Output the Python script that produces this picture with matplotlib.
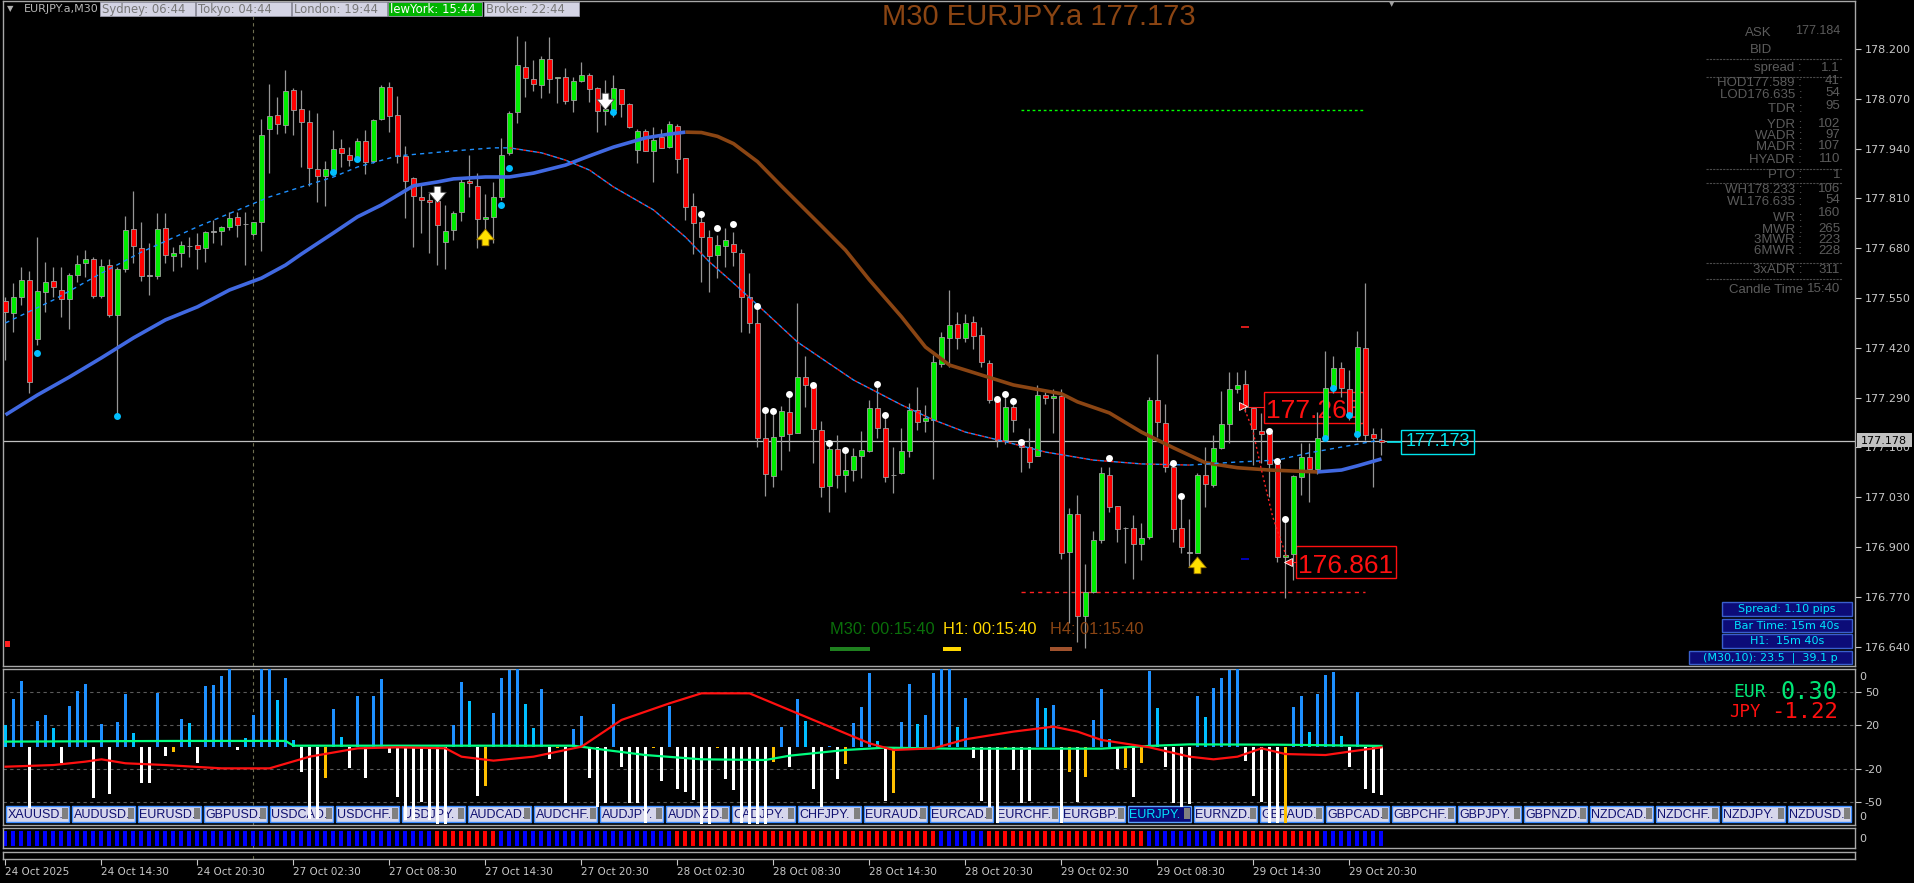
import numpy as np
import matplotlib
matplotlib.use("Agg")
import matplotlib.pyplot as plt
import matplotlib.transforms as mtransforms
from matplotlib.patches import Rectangle

plt.rcParams['font.family'] = ['DejaVu Sans']

# ================= EURJPY.a M30 candles =================
opens = [
    177.542, 177.511, 177.553, 177.597, 177.443, 177.566, 177.595, 177.571, 177.548, 177.610,
    177.642, 177.652, 177.555, 177.636, 177.506, 177.626, 177.730, 177.681, 177.608, 177.608,
    177.733, 177.660, 177.668, 177.686, 177.689, 177.681, 177.723, 177.725, 177.735, 177.762,
    177.743, 177.717, 177.749, 177.991, 178.028, 178.002, 178.093, 178.043, 178.010, 177.887,
    177.869, 177.882, 177.942, 177.923, 177.910, 177.960, 177.908, 178.017, 178.101, 178.028,
    177.921, 177.863, 177.814, 177.806, 177.803, 177.696, 177.728, 177.775, 177.856, 177.843,
    177.756, 177.762, 177.814, 177.929, 178.036, 178.153, 178.122, 178.106, 178.174, 178.124,
    178.127, 178.067, 178.117, 178.132, 178.098, 178.038, 178.041, 178.096, 178.057, 177.937,
    177.986, 177.934, 177.970, 177.944, 177.999, 177.916, 177.790, 177.749, 177.709, 177.662,
    177.686, 177.691, 177.668, 177.553, 177.485, 177.185, 177.086, 177.190, 177.253, 177.198,
    177.344, 177.323, 177.206, 177.060, 177.156, 177.088, 177.101, 177.138, 177.151, 177.263,
    177.211, 177.088, 177.093, 177.151, 177.258, 177.229, 177.232, 177.378, 177.446, 177.482,
    177.446, 177.488, 177.454, 177.381, 177.284, 177.180, 177.266, 177.169, 177.161, 177.138,
    177.297, 177.289, 177.294, 176.887, 176.986, 176.720, 176.783, 176.919, 177.088, 177.007,
    176.950, 176.950, 176.908, 176.926, 177.284, 177.224, 177.109, 176.950, 176.885, 176.885,
    177.088, 177.062, 177.159, 177.221, 177.313, 177.326, 177.263, 177.203, 177.198, 177.117,
    176.874, 176.882, 177.083, 177.135, 177.104, 177.185, 177.315, 177.368, 177.313, 177.193,
    177.420, 177.195, 177.180]
highs = [
    177.553, 177.589, 177.631, 177.621, 177.709, 177.644, 177.631, 177.631, 177.615, 177.662,
    177.675, 177.657, 177.652, 177.652, 177.631, 177.764, 177.830, 177.749, 177.694, 177.772,
    177.772, 177.683, 177.699, 177.709, 177.720, 177.725, 177.754, 177.738, 177.775, 177.775,
    177.775, 177.749, 178.017, 178.109, 178.075, 178.145, 178.098, 178.093, 178.041, 178.033,
    177.908, 177.989, 177.965, 177.944, 177.968, 177.989, 178.017, 178.106, 178.114, 178.077,
    177.947, 177.866, 177.850, 177.824, 177.824, 177.793, 177.777, 177.861, 177.923, 177.876,
    177.822, 177.853, 177.968, 178.038, 178.234, 178.221, 178.171, 178.182, 178.231, 178.127,
    178.151, 178.127, 178.166, 178.137, 178.101, 178.119, 178.132, 178.096, 178.059, 177.991,
    177.991, 177.997, 177.991, 178.012, 178.004, 177.916, 177.824, 177.767, 177.728, 177.715,
    177.733, 177.723, 177.678, 177.615, 177.532, 177.258, 177.255, 177.268, 177.300, 177.537,
    177.399, 177.323, 177.229, 177.172, 177.193, 177.154, 177.159, 177.203, 177.284, 177.326,
    177.245, 177.161, 177.211, 177.276, 177.318, 177.271, 177.401, 177.462, 177.571, 177.514,
    177.508, 177.503, 177.475, 177.388, 177.292, 177.302, 177.279, 177.174, 177.211, 177.323,
    177.305, 177.313, 177.313, 177.002, 177.036, 176.856, 176.942, 177.109, 177.109, 177.007,
    176.953, 176.984, 176.963, 177.292, 177.404, 177.274, 177.120, 177.033, 176.973, 177.093,
    177.161, 177.193, 177.308, 177.357, 177.357, 177.362, 177.263, 177.250, 177.198, 177.130,
    176.976, 177.088, 177.172, 177.172, 177.253, 177.412, 177.399, 177.383, 177.362, 177.464,
    177.589, 177.211, 177.211]
lows = [
    177.388, 177.462, 177.532, 177.302, 177.428, 177.514, 177.553, 177.501, 177.469, 177.592,
    177.605, 177.550, 177.550, 177.501, 177.240, 177.618, 177.642, 177.595, 177.558, 177.600,
    177.642, 177.621, 177.631, 177.657, 177.626, 177.644, 177.694, 177.689, 177.728, 177.709,
    177.636, 177.712, 177.673, 177.876, 177.978, 177.981, 177.976, 177.892, 177.843, 177.801,
    177.790, 177.871, 177.892, 177.895, 177.905, 177.874, 177.903, 178.015, 177.983, 177.903,
    177.759, 177.683, 177.720, 177.668, 177.636, 177.626, 177.702, 177.751, 177.814, 177.681,
    177.715, 177.694, 177.806, 177.923, 178.007, 178.075, 178.090, 178.072, 178.085, 178.059,
    178.057, 178.036, 178.114, 178.062, 177.983, 178.002, 178.023, 178.023, 177.994, 177.903,
    177.934, 177.853, 177.942, 177.942, 177.876, 177.754, 177.665, 177.592, 177.566, 177.602,
    177.631, 177.634, 177.462, 177.459, 177.161, 177.033, 177.057, 177.101, 177.151, 177.198,
    177.266, 177.120, 177.031, 176.992, 177.054, 177.044, 177.073, 177.080, 177.148, 177.185,
    177.070, 177.041, 177.091, 177.135, 177.206, 177.200, 177.078, 177.370, 177.370, 177.417,
    177.435, 177.417, 177.370, 177.276, 177.161, 177.169, 177.200, 177.096, 177.107, 177.138,
    177.274, 177.198, 176.869, 176.702, 176.652, 176.637, 176.780, 176.911, 176.992, 176.913,
    176.859, 176.817, 176.866, 176.921, 177.187, 177.096, 176.913, 176.885, 176.848, 176.885,
    177.005, 177.057, 177.156, 177.172, 177.302, 177.253, 177.114, 177.120, 177.031, 176.861,
    176.767, 176.814, 177.036, 177.018, 177.091, 177.180, 177.302, 177.292, 177.232, 177.180,
    177.180, 177.057, 177.141]
closes = [
    177.514, 177.553, 177.597, 177.331, 177.569, 177.592, 177.579, 177.548, 177.610, 177.639,
    177.652, 177.555, 177.634, 177.506, 177.626, 177.728, 177.686, 177.608, 177.608, 177.730,
    177.662, 177.668, 177.689, 177.686, 177.678, 177.723, 177.723, 177.735, 177.759, 177.741,
    177.743, 177.749, 177.976, 178.025, 178.004, 178.090, 178.041, 178.010, 177.890, 177.869,
    177.887, 177.939, 177.929, 177.910, 177.960, 177.905, 178.015, 178.101, 178.025, 177.921,
    177.856, 177.816, 177.806, 177.801, 177.741, 177.725, 177.772, 177.853, 177.850, 177.756,
    177.762, 177.814, 177.923, 178.033, 178.158, 178.124, 178.109, 178.174, 178.122, 178.127,
    178.064, 178.117, 178.132, 178.096, 178.038, 178.044, 178.098, 178.057, 177.997, 177.986,
    177.934, 177.963, 177.942, 178.004, 177.913, 177.788, 177.746, 177.709, 177.660, 177.689,
    177.702, 177.670, 177.553, 177.485, 177.185, 177.091, 177.187, 177.255, 177.195, 177.344,
    177.323, 177.208, 177.057, 177.156, 177.088, 177.101, 177.138, 177.154, 177.263, 177.211,
    177.083, 177.088, 177.151, 177.258, 177.227, 177.237, 177.383, 177.448, 177.480, 177.446,
    177.485, 177.451, 177.383, 177.284, 177.180, 177.266, 177.232, 177.161, 177.122, 177.297,
    177.289, 177.294, 176.885, 176.986, 176.720, 176.783, 176.919, 177.093, 177.005, 176.947,
    176.950, 176.908, 176.924, 177.284, 177.227, 177.109, 176.947, 176.900, 176.885, 177.088,
    177.065, 177.159, 177.221, 177.313, 177.323, 177.266, 177.208, 177.195, 177.117, 176.874,
    176.879, 177.086, 177.135, 177.104, 177.185, 177.315, 177.368, 177.315, 177.245, 177.422,
    177.193, 177.185, 177.173]

# moving averages (sampled every few bars)
ma_idx = [0, 4, 8, 12, 16, 20, 24, 28, 32, 35, 37, 41, 44, 47, 51, 54, 56, 60, 63, 66, 70, 73, 76,
          80, 83, 85, 87, 89, 91, 94, 97, 102, 105, 108, 112, 115, 118, 122, 126, 132, 134, 138,
          142, 146, 150, 154, 158, 164, 167, 169, 172]
ma_val = [177.245, 177.297, 177.344, 177.394, 177.446, 177.493, 177.527, 177.571, 177.602, 177.636,
          177.665, 177.720, 177.762, 177.793, 177.843, 177.853, 177.861, 177.866, 177.866, 177.876,
          177.897, 177.921, 177.944, 177.968, 177.978, 177.983, 177.982, 177.972, 177.953, 177.906,
          177.842, 177.738, 177.675, 177.597, 177.501, 177.422, 177.375, 177.349, 177.323, 177.300,
          177.279, 177.250, 177.200, 177.159, 177.120, 177.107, 177.101, 177.096, 177.101, 177.112,
          177.130]
ma_down = (85, 164)

tma_idx = [0, 6, 12, 17, 24, 33, 41, 44, 49, 56, 61, 63, 67, 70, 73, 76, 81, 85, 88, 91, 94, 99,
           106, 112, 116, 120, 124, 130, 136, 142, 148, 154, 159, 163, 167, 172]
tma_val = [177.485, 177.545, 177.615, 177.670, 177.736, 177.814, 177.866, 177.892, 177.921, 177.934,
           177.942, 177.942, 177.929, 177.910, 177.884, 177.840, 177.780, 177.709, 177.644, 177.589,
           177.532, 177.435, 177.336, 177.271, 177.232, 177.200, 177.180, 177.148, 177.127, 177.117,
           177.114, 177.122, 177.127, 177.146, 177.161, 177.180]
tma_down = (63, 148)

# signal dots / arrows
cyan_idx = [4, 14, 41, 44, 62, 63, 76, 165, 166, 168, 169]
cyan_val = [177.407, 177.242, 177.879, 177.913, 177.793, 177.890, 178.036, 177.185, 177.315,
            177.245, 177.195]
white_idx = [87, 89, 91, 94, 95, 96, 98, 101, 103, 105, 109, 110, 124, 125, 126, 127, 138, 146,
             147, 158, 159, 160]
white_val = [177.769, 177.733, 177.743, 177.529, 177.258, 177.255, 177.300, 177.323, 177.172,
             177.154, 177.326, 177.245, 177.287, 177.300, 177.282, 177.174, 177.133, 177.120,
             177.033, 177.203, 177.125, 176.973]
down_idx = [54, 75]
down_val = [177.798, 178.041]
up_idx = [60, 149]
up_val = [177.730, 176.874]

high_level = 178.041
low_level = 176.783
level_span = (127, 170)
bid_line = 177.178
zig_idx = [154.7, 155.9, 157.0, 158.4, 160.2]
zig_val = [177.270, 177.206, 177.101, 176.979, 176.870]

price_ticks = [176.640 + 0.13 * k for k in range(13)]
xtick_idx = list(range(0, 169, 12))
xtick_lab = ['24 Oct 2025', '24 Oct 14:30', '24 Oct 20:30', '27 Oct 02:30', '27 Oct 08:30',
             '27 Oct 14:30', '27 Oct 20:30', '28 Oct 02:30', '28 Oct 08:30', '28 Oct 14:30',
             '28 Oct 20:30', '29 Oct 02:30', '29 Oct 08:30', '29 Oct 14:30', '29 Oct 20:30']

# currency strength histogram
hist_vals = [
    20.0, 43.6, 60.3, -55.8, 23.6, 29.1, 17.0, -14.2, 37.3, 50.9,
    57.3, -46.1, 20.9, -42.7, 22.7, 48.2, 13.0, -32.4, -33.0, 49.4,
    -8.2, -4.2, 25.2, 22.1, -14.2, 55.5, 56.4, 64.9, 70.6, -2.7,
    7.9, 29.1, 70.6, 70.6, 42.7, 62.4, 6.4, -22.4, -65.7, -65.7,
    -28.5, 34.3, 8.8, -19.4, 46.4, -28.5, 46.4, 61.5, -5.1, -45.1,
    -66.4, -66.4, -49.7, -66.4, -70.0, -70.0, 20.0, 58.8, 41.8, -44.5,
    -35.4, 31.2, 63.0, 70.0, 70.6, 39.1, 17.0, 52.7, -11.2, -1.2,
    -50.6, 16.1, 28.2, -27.9, -54.2, -51.2, 39.1, -18.5, -50.6, -50.6,
    -68.8, -1.0, -30.6, 37.3, -38.5, -40.6, -48.2, -70.0, -70.0, -1.2,
    -29.4, -39.1, -69.4, -70.0, -70.0, -70.0, -13.3, 18.5, -18.5, 43.6,
    23.6, -38.5, -54.2, 1.0, -29.4, -15.4, 22.1, 36.7, 67.0, 5.5,
    -48.8, -42.1, 23.0, 57.3, 20.9, 29.1, 67.0, 70.6, 70.6, 18.5,
    44.3, -10.3, -48.8, -54.2, -69.4, -1.2, -20.9, -50.6, -48.8, 44.3,
    35.2, 38.2, -69.4, -22.4, -49.7, -27.0, 24.6, 52.7, 7.0, -20.0,
    -19.4, -45.1, -14.8, 69.1, 35.2, -18.5, -51.2, -54.2, -51.8, 46.4,
    27.0, 53.3, 62.4, 70.0, 70.6, -12.4, -44.5, -49.7, -69.4, -69.4,
    -69.4, 36.7, 46.4, 14.0, 48.2, 65.5, 68.5, 10.0, -18.5, 50.3,
    -38.5, -42.1, -43.6]
hist_kind = [
    'c', 'b', 'b', 'w', 'b', 'b', 'c', 'w', 'b', 'b',
    'b', 'w', 'b', 'w', 'b', 'b', 'c', 'w', 'w', 'b',
    'w', 'g', 'b', 'c', 'w', 'b', 'b', 'b', 'b', 'w',
    'c', 'b', 'b', 'b', 'c', 'b', 'c', 'w', 'w', 'w',
    'g', 'b', 'c', 'w', 'b', 'w', 'b', 'b', 'w', 'w',
    'w', 'w', 'w', 'w', 'w', 'w', 'b', 'b', 'c', 'w',
    'g', 'b', 'b', 'b', 'b', 'c', 'c', 'b', 'w', 'g',
    'w', 'b', 'b', 'w', 'w', 'w', 'b', 'w', 'w', 'w',
    'w', 'g', 'w', 'b', 'w', 'w', 'w', 'w', 'w', 'g',
    'w', 'w', 'w', 'w', 'w', 'w', 'g', 'b', 'w', 'b',
    'c', 'w', 'w', 'b', 'w', 'g', 'b', 'b', 'b', 'c',
    'w', 'g', 'b', 'b', 'c', 'b', 'b', 'b', 'b', 'c',
    'b', 'w', 'w', 'w', 'w', 'g', 'w', 'w', 'w', 'b',
    'c', 'b', 'w', 'g', 'w', 'g', 'b', 'b', 'c', 'w',
    'g', 'w', 'g', 'b', 'c', 'w', 'w', 'w', 'w', 'b',
    'c', 'b', 'b', 'b', 'b', 'w', 'w', 'w', 'w', 'w',
    'g', 'b', 'b', 'c', 'b', 'b', 'b', 'c', 'w', 'b',
    'w', 'w', 'w']
green_idx = [0, 21, 35, 36, 71, 75, 80, 87, 95, 98, 105, 110, 118, 137, 143, 148, 159, 172]
green_val = [4.9, 5.5, 5.5, 1.2, 1.2, -2.7, -7.3, -11.2, -11.8, -7.9, -2.7, -0.6, -1.5, -1.5,
             1.0, 2.4, 2.1, 1.0]
red_idx = [0, 6, 10, 12, 15, 20, 27, 33, 38, 44, 49, 55, 57, 61, 66, 72, 77, 83, 87, 93, 98, 103,
           108, 111, 116, 120, 126, 131, 134, 137, 143, 148, 151, 154, 157, 160, 165, 168, 172]
red_val = [-17.9, -16.4, -13.3, -11.2, -14.8, -16.4, -19.4, -19.4, -8.8, -1.2, -0.3, -1.2, -8.8,
           -12.4, -8.8, 0.3, 24.6, 39.7, 48.8, 48.8, 33.6, 18.5, 3.3, -2.7, -1.2, 7.0, 14.0, 18.5,
           14.0, 6.4, -0.3, -8.8, -11.2, -8.8, -1.2, -6.4, -7.3, -4.2, -0.3]
trend_runs = [(0, 53, 'b'), (54, 61, 'r'), (62, 83, 'b'), (84, 116, 'r'), (117, 122, 'b'),
              (123, 142, 'r'), (143, 151, 'b'), (152, 164, 'r'), (165, 172, 'b')]

symbols = ['XAUUSD.', 'AUDUSD.', 'EURUSD.', 'GBPUSD.', 'USDCAD.', 'USDCHF.', 'USDJPY.', 'AUDCAD.',
           'AUDCHF.', 'AUDJPY.', 'AUDNZD.', 'CADJPY.', 'CHFJPY.', 'EURAUD.', 'EURCAD.', 'EURCHF.',
           'EURGBP.', 'EURJPY.', 'EURNZD.', 'GBPAUD.', 'GBPCAD.', 'GBPCHF.', 'GBPJPY.', 'GBPNZD.',
           'NZDCAD.', 'NZDCHF.', 'NZDJPY.', 'NZDUSD.']

info_rows = [('spread :', '1.1', 68, 68), ('HOD177.589 :', '41', 83, 81), ('LOD176.635 :', '54', 95, 93),
             ('TDR :', '95', 109, 106), ('YDR :', '102', 125, 124), ('WADR :', '97', 136, 135),
             ('MADR :', '107', 147, 146), ('HYADR :', '110', 160, 159), ('PTO :', '1', 175, 175),
             ('WH178.233 :', '106', 190, 189), ('WL176.635 :', '54', 202, 200), ('WR :', '160', 218, 213),
             ('MWR :', '265', 230, 229), ('3MWR :', '223', 240, 240), ('6MWR :', '228', 251, 251),
             ('3xADR :', '311', 270, 270)]

# ================= layout =================
W, H = 1915, 883
BORDER = '#a8a8a8'
AXTXT = '#c8c8c8'
ARIAL = 'Liberation Sans'

fig = plt.figure(figsize=(W / 100, H / 100), dpi=100, facecolor='black')
pix = mtransforms.Affine2D().scale(1, -1).translate(0, H)   # top-left pixel coords


def panel(y0, y1):
    a = fig.add_axes([3 / W, 1 - y1 / H, 1852 / W, (y1 - y0) / H])
    a.set_facecolor('black')
    a.set_xlim(-0.3125, 231.19)
    for s in a.spines.values():
        s.set_color(BORDER)
        s.set_linewidth(1)
    a.yaxis.tick_right()
    a.tick_params(axis='x', bottom=False, labelbottom=False)
    a.tick_params(axis='y', colors=AXTXT, labelsize=8, length=4, width=0.8, pad=3)
    a.axvline(30.94, color='#6e6e50', lw=0.8, ls=(0, (3, 3)), zorder=0.6)
    return a


idx = np.arange(len(opens))
o, h, l, c = map(np.array, (opens, highs, lows, closes))

# ---------- main price panel ----------
ax = panel(1, 666)
ax.set_ylim(176.5895, 178.3253)
ax.set_yticks(price_ticks)
ax.set_yticklabels([f'{t:.3f}' for t in price_ticks])

ax.axhline(bid_line, color='#c0c0c0', lw=0.9, zorder=1.5)
ax.hlines(high_level, *level_span, colors='#00ff00', linestyles=(0, (2, 2)), lw=1, zorder=1.5)
ax.hlines(low_level, *level_span, colors='#ff2020', linestyles=(0, (3, 3)), lw=1, zorder=1.5)
ax.hlines(177.475, 154.5, 155.5, colors='#ff2020', lw=1.2)
ax.hlines(176.869, 154.5, 155.5, colors='#0000dd', lw=1.2)

body_col = np.where(np.abs(c - o) < 0.002, '#a0a0a0', np.where(c > o, '#00ee00', '#ff0000'))
ax.vlines(idx, l, h, color='#969696', lw=0.9, zorder=3)
ax.bar(idx, np.maximum(np.abs(c - o), 0.0009), bottom=np.minimum(o, c), width=0.62,
       color=body_col, edgecolor='#a0a0a0', linewidth=0.6, zorder=4)

mi, mv = np.array(ma_idx), np.array(ma_val)
for mask, col in [(mi <= ma_down[0], '#4169e1'),
                  ((mi >= ma_down[0]) & (mi <= ma_down[1]), '#8b4513'),
                  (mi >= ma_down[1], '#4169e1')]:
    ax.plot(mi[mask], mv[mask], color=col, lw=2.6, zorder=5, solid_capstyle='butt',
            solid_joinstyle='round')

ti, tv = np.array(tma_idx), np.array(tma_val)
up1 = ti <= tma_down[0]
dn = (ti >= tma_down[0]) & (ti <= tma_down[1])
up2 = ti >= tma_down[1]
ax.plot(ti[up1], tv[up1], color='#1e90ff', lw=1, ls=(0, (3, 3)), zorder=5)
ax.plot(ti[up2], tv[up2], color='#1e90ff', lw=1, ls=(0, (3, 3)), zorder=5)
ax.plot(ti[dn], tv[dn], color='#ff2020', gapcolor='#1e90ff', lw=1, ls=(0, (2, 3)), zorder=5)

ax.plot(zig_idx, zig_val, color='#ff2020', lw=1, ls=(0, (1.5, 2)), zorder=5)

ax.plot(cyan_idx, cyan_val, 'o', color='#00bfff', ms=5, mec='none', zorder=6)
ax.plot(white_idx, white_val, 'o', color='white', ms=5, mec='none', zorder=6)
for i, p in zip(down_idx, down_val):
    ax.annotate('', xy=(i, p), xytext=(0, 12), textcoords='offset points', zorder=7,
                arrowprops=dict(arrowstyle='simple,head_length=0.55,head_width=0.9,tail_width=0.35',
                                fc='white', ec='#505050', lw=0.6, mutation_scale=14, shrinkA=0, shrinkB=0))
for i, p in zip(up_idx, up_val):
    ax.annotate('', xy=(i, p), xytext=(0, -12), textcoords='offset points', zorder=7,
                arrowprops=dict(arrowstyle='simple,head_length=0.55,head_width=0.9,tail_width=0.35',
                                fc='#ffe000', ec='#a07800', lw=0.6, mutation_scale=14, shrinkA=0, shrinkB=0))

# red price labels (behind candles)
for (x0, y0, x1, y1), yb, s in [((1264, 392, 1363, 423), 418, '177.265'),
                                ((1296, 546, 1396, 578), 573, '176.861')]:
    ax.add_patch(Rectangle((x0, y0), x1 - x0, y1 - y0, transform=pix, fill=False,
                           ec='#ff1010', lw=1, zorder=2))
    ax.text((x0 + x1) / 2, yb, s, transform=pix, ha='center', va='baseline', color='#ff1010',
            fontsize=19, family=ARIAL, zorder=2)
ax.plot([1243], [406], marker='>', ms=6, color='#ff2020', mec='white', mew=0.6, transform=pix, zorder=6)
ax.plot([1249, 1264], [407, 407], color='#ff2020', lw=0.8, transform=pix, zorder=6)
ax.plot([1288], [562], marker='<', ms=6, color='#ff2020', mec='white', mew=0.6, transform=pix, zorder=6)
ax.plot([1293, 1296], [562, 562], color='#ff2020', lw=0.8, transform=pix, zorder=6)

# ---------- strength histogram panel ----------
axi = panel(669, 825)
axi.set_ylim(-70.9, 70.9)
axi.set_yticks([50, 20, -20, -50])
axi.set_yticklabels(['50', '20', '-20', '-50'])
for v in (50, 20, -20, -50):
    axi.axhline(v, color='#5a5a5a', lw=0.8, ls=(0, (3, 3)), zorder=0.5)

for k, s in enumerate(symbols):
    x0 = 6 + 66 * k
    sel = s == 'EURJPY.'
    axi.add_patch(Rectangle((x0, 806), 63, 16, transform=pix, fc='#0a0a78' if sel else '#d6d6ec',
                            ec='#5aa0ff' if sel else '#3c8cff', lw=1, zorder=1))
    axi.add_patch(Rectangle((x0 + 56, 808), 6, 11, transform=pix, fc='#808080', ec='none', zorder=1.1))
    axi.text(x0 + 1.5, 814.5, s, transform=pix, ha='left', va='center', fontsize=9, family=ARIAL,
             color='#00e5ff' if sel else '#101070', zorder=1.2)

kind_col = {'b': '#1e90ff', 'c': '#00bfff', 'w': '#ffffff', 'g': '#ffc000'}
axi.bar(idx, hist_vals, width=0.42, color=[kind_col[k] for k in hist_kind], zorder=3)
axi.plot(green_idx, green_val, color='#00ff7f', lw=1.6, zorder=4)
axi.plot(red_idx, red_val, color='#ff1010', lw=1.6, zorder=4)

# ---------- trend colour panel ----------
axc = panel(828, 848)
axc.set_ylim(0, 20)
axc.set_yticks([])
trend_col = ['#0000ff'] * len(opens)
for a, b, k in trend_runs:
    for i in range(a, b + 1):
        trend_col[i] = '#0000ff' if k == 'b' else '#ff0000'
axc.bar(idx, 15, bottom=2, width=0.5, color=trend_col)

# ---------- time axis panel ----------
axb = panel(852, 859)
axb.set_yticks([])
axb.set_xticks(xtick_idx)
axb.set_xticklabels(xtick_lab, ha='left')
axb.tick_params(axis='x', bottom=True, labelbottom=True, colors=AXTXT, labelsize=7.5,
                length=4, width=0.8, pad=2, direction='out')


# ================= screen furniture (pixel coordinates) =================
def ftext(x, y, s, **kw):
    kw.setdefault('zorder', 10)
    fig.text(x, y, s, transform=pix, **kw)


def frect(x0, y0, x1, y1, **kw):
    kw.setdefault('zorder', 9)
    fig.add_artist(Rectangle((x0, y0), x1 - x0, y1 - y0, transform=pix, **kw))


# header
ftext(10, 9, '▼', fontsize=6, color='#b0b0b0', ha='center', va='center')
ftext(24, 9, 'EURJPY.a,M30', fontsize=8, color='#b8b8b8', va='center', zorder=8)
sessions = [(100, 195, 'Sydney: 06:44', '#d4d4e4', '#777777'),
            (196, 291, 'Tokyo: 04:44', '#d4d4e4', '#777777'),
            (292, 387, 'London: 19:44', '#d4d4e4', '#777777'),
            (388, 482, 'lewYork: 15:44', '#00b400', '#ffffff'),
            (484, 579, 'Broker: 22:44', '#d4d4e4', '#777777')]
for x0, x1, s, bg, fg in sessions:
    frect(x0, 2, x1, 16, fc=bg, ec='#9a9aaa', lw=0.6)
    ftext(x0 + 1.5, 9.5, s, fontsize=8.4, color=fg, va='center')
ftext(1392, 4, '▼', fontsize=5, color='#a0a0a0', ha='center', va='center')

ftext(1039, 25, 'M30 EURJPY.a 177.173', fontsize=21, family=ARIAL, color='#8b4513',
      ha='center', va='baseline')

# info panel
INFO = '#5c5c5c'
ftext(1758, 33, 'ASK', fontsize=9.5, family=ARIAL, color=INFO, ha='center', va='center')
ftext(1840, 31, '177.184', fontsize=9, family=ARIAL, color=INFO, ha='right', va='center')
ftext(1761, 50, 'BID', fontsize=9.5, family=ARIAL, color=INFO, ha='center', va='center')
for yy in (59, 77, 169, 183, 263, 279):
    fig.add_artist(plt.Line2D([1706, 1842], [yy, yy], transform=pix, color='#4a4a4a', lw=0.8,
                              ls=(0, (2, 1)), zorder=9))
for lab, val, yl, yv in info_rows:
    ftext(1802, yl, lab, fontsize=9.5, family=ARIAL, color=INFO, ha='right', va='center')
    ftext(1840, yv, val, fontsize=9.5, family=ARIAL, color=INFO, ha='right', va='center')
ftext(1729, 290, 'Candle Time', fontsize=9.5, family=ARIAL, color=INFO, ha='left', va='center')
ftext(1840, 289, '15:40', fontsize=9.5, family=ARIAL, color=INFO, ha='right', va='center')

# current price tags
frect(1857, 433, 1912, 447, fc='#c0c0c0', ec='none', zorder=11)
ftext(1884, 440.5, '177.178', fontsize=8, color='black', ha='center', va='center', zorder=12)
frect(1401, 430, 1474, 454, fill=False, ec='#00e5ee', lw=1)
fig.add_artist(plt.Line2D([1388, 1401], [442, 442], transform=pix, color='#00e5ee', lw=1.2, zorder=9))
ftext(1437.5, 442, '177.173', fontsize=13, family=ARIAL, color='#00e5ee', ha='center', va='center')

# timers
ftext(830, 630, 'M30: 00:15:40', fontsize=11.8, family=ARIAL, color='#0a6e0a', va='center')
ftext(943, 630, 'H1: 00:15:40', fontsize=11.8, family=ARIAL, color='#ffd700', va='center')
ftext(1050, 630, 'H4: 01:15:40', fontsize=11.8, family=ARIAL, color='#8b4513', va='center')
frect(830, 647, 870, 651, fc='#1f801f', ec='none')
frect(943, 647, 961, 651, fc='#ffd700', ec='none')
frect(1050, 647, 1072, 651, fc='#a0522d', ec='none')
frect(5, 641, 10, 647, fc='#ff2020', ec='none')

# spread / bar time boxes
for (x0, y0, x1, y1), s in [((1722, 602, 1852, 616), 'Spread: 1.10 pips'),
                            ((1722, 619, 1852, 632), 'Bar Time: 15m 40s'),
                            ((1722, 634, 1852, 648), 'H1:  15m 40s'),
                            ((1689, 651, 1852, 664), '(M30,10): 23.5  |  39.1 p')]:
    frect(x0, y0, x1, y1, fc='#0c0c78', ec='#3a5fcd', lw=1)
    ftext((x0 + x1) / 2, (y0 + y1) / 2 + 0.5, s, fontsize=8, color='#00e5ff', ha='center', va='center')

# strength readout
MONO = 'DejaVu Sans Mono'
ftext(1733, 692, 'EUR', fontsize=13, family=MONO, color='#00e676', va='center')
ftext(1838, 692, '0.30', fontsize=17, family=MONO, color='#00e676', ha='right', va='center')
ftext(1729, 712, 'JPY', fontsize=12.5, family=MONO, color='#ff1010', va='center')
ftext(1838, 712, '-1.22', fontsize=16, family=MONO, color='#ff1010', ha='right', va='center')

# extra scale labels of the lower panels
ftext(1859, 677, '0', fontsize=8, color=AXTXT, va='center')
ftext(1859, 817, '0', fontsize=8, color=AXTXT, va='center')
ftext(1859, 839, '0', fontsize=8, color=AXTXT, va='center')

fig.savefig('out.png', dpi=100, facecolor='black')
